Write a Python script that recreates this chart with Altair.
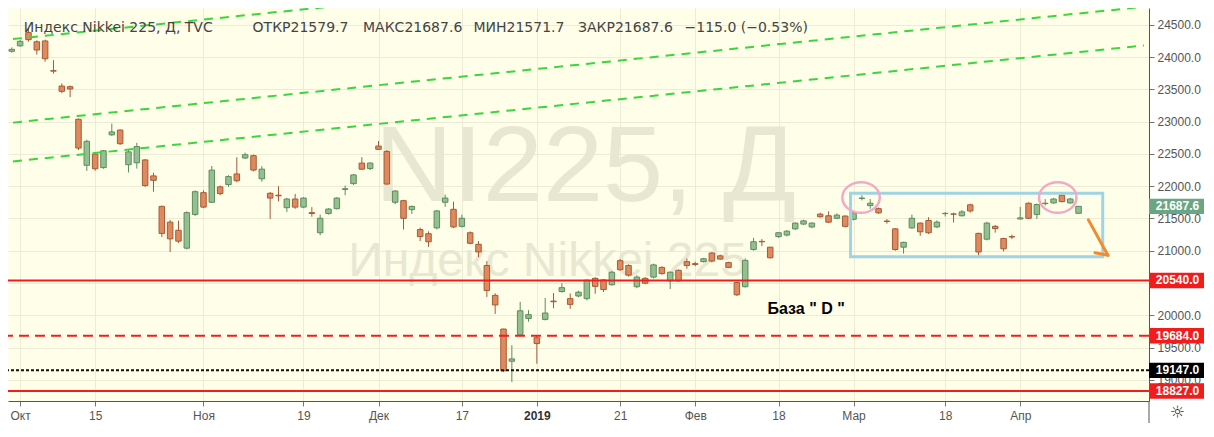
import json
import altair as alt
import pandas as pd

# ------------------------------------------------------------------ data
# trading-day index: -1 = 28 Sep 2018, 0 = 1 Oct 2018 ... 127 = 10 Apr 2019
first_index = -1
opens = [
    24090,
    24175, 24380, 24238, 24250, 23790, 23552, 23542, 23037, 22324, 22497,
    22288, 22796, 22870, 22333, 22363, 22407, 22160, 21687, 21443, 21318,
    21040, 21563, 21900, 21751, 21990, 22025, 22190, 22437, 22473, 22115,
    21890, 21860, 21667, 21801, 21676, 21590, 21279, 21577, 21652, 21950,
    22040, 22358, 22273, 22622, 22537, 21751, 21776, 21637, 21328, 21264,
    21354, 21751, 21642, 21378, 21279, 21100, 20772, 20309, 19787, 19288,
    19697, 19951, 19652, 19936, 20220, 20369, 20258, 20299, 20258, 20572,
    20548, 20473, 20846, 20772, 20443, 20572, 20592, 20742, 20533, 20697,
    20831, 20800, 20831, 20965, 20921, 20817, 20507, 20443, 21019, 21145,
    21055, 21219, 21243, 21339, 21413, 21369, 21567, 21542, 21503, 21537,
    21488, 21810, 21701, 21652, 21460, 21339, 21055, 21354, 21428, 21468,
    21369, 21575, 21570, 21542, 21711, 21269, 21179, 21378, 21190, 21220,
    21493, 21736, 21563, 21730, 21741, 21861, 21741, 21580,
]
highs = [
    24150,
    24270, 24448, 24260, 24270, 23953, 23593, 23560, 23050, 22721, 22510,
    22560, 22970, 22880, 22572, 22672, 22420, 22209, 21700, 21478, 21467,
    21610, 21935, 21935, 22313, 22010, 22170, 22448, 22520, 22490, 22310,
    21910, 22000, 21820, 21880, 21830, 21676, 21560, 21660, 21830, 22010,
    22190, 22450, 22370, 22700, 22560, 21940, 21790, 21700, 21360, 21300,
    21630, 21870, 21760, 21560, 21300, 21150, 20840, 20340, 19790, 19537,
    20209, 20080, 19687, 20269, 20343, 20497, 20340, 20380, 20560, 20590,
    20560, 20690, 20870, 20790, 20620, 20590, 20800, 20760, 20680, 20710,
    20880, 20830, 20890, 20980, 20940, 20830, 20520, 20880, 21200, 21180,
    21060, 21290, 21320, 21440, 21480, 21440, 21590, 21610, 21580, 21550,
    21610, 21860, 21801, 21670, 21490, 21350, 21140, 21560, 21440, 21520,
    21470, 21600, 21590, 21630, 21730, 21280, 21450, 21400, 21200, 21250,
    21680, 21750, 21730, 21800, 21820, 21870, 21820, 21688,
]
lows = [
    24070,
    24160, 24240, 24040, 23930, 23744, 23440, 23380, 22560, 22239, 22240,
    22270, 22780, 22640, 22213, 22273, 21990, 21915, 21213, 20981, 21120,
    21020, 21540, 21660, 21740, 21860, 21990, 22060, 22420, 22230, 22070,
    21493, 21766, 21600, 21650, 21660, 21527, 21240, 21560, 21640, 21860,
    22020, 22250, 22250, 22560, 22020, 21720, 21328, 21570, 21150, 21060,
    21330, 21680, 21350, 21360, 21100, 20900, 20284, 20020, 19120, 18966,
    19680, 19900, 19249, 19920, 20109, 20350, 20100, 20280, 20230, 20333,
    20360, 20460, 20690, 20600, 20420, 20480, 20570, 20630, 20408, 20520,
    20720, 20760, 20820, 20820, 20860, 20730, 20300, 20430, 21000, 21070,
    20880, 21200, 21220, 21320, 21400, 21350, 21510, 21430, 21490, 21360,
    21470, 21780, 21650, 21570, 21420, 21000, 20955, 21340, 21230, 21260,
    21350, 21530, 21437, 21530, 21590, 20930, 21160, 21280, 20990, 21180,
    21480, 21490, 21490, 21700, 21730, 21750, 21730, 21572,
]
closes = [
    24120,
    24245, 24270, 24110, 23975, 23783, 23470, 23506, 22591, 22695, 22271,
    22549, 22841, 22658, 22532, 22614, 22010, 22091, 21268, 21184, 21149,
    21590, 21915, 21676, 22249, 21885, 22149, 22085, 22488, 22250, 22264,
    21816, 21851, 21801, 21676, 21816, 21577, 21503, 21646, 21816, 21960,
    22175, 22264, 22358, 22572, 22034, 21925, 21502, 21687, 21219, 21139,
    21617, 21816, 21369, 21503, 21115, 20981, 20384, 20160, 19139, 19324,
    20070, 20010, 19562, 20035, 20210, 20428, 20169, 20358, 20542, 20448,
    20399, 20667, 20706, 20622, 20592, 20497, 20781, 20646, 20667, 20533,
    20772, 20788, 20876, 20840, 20871, 20742, 20317, 20851, 21139, 21139,
    20891, 21279, 21303, 21428, 21463, 21428, 21527, 21443, 21552, 21378,
    21587, 21816, 21736, 21587, 21453, 21019, 21130, 21503, 21294, 21279,
    21443, 21579, 21567, 21602, 21617, 20981, 21428, 21343, 21030, 21213,
    21509, 21503, 21716, 21736, 21801, 21761, 21801, 21688,
]

x_tick_index = [0, 9, 22, 34, 43, 53, 62, 72, 81, 91, 100, 111, 120]
x_tick_labels = ["Окт", "15", "Ноя", "19", "Дек", "17", "2019", "21", "Фев", "18", "Мар", "18", "Апр"]
y_ticks = list(range(19000, 25000, 500))
y_hidden_label = 20500   # covered by the 20540.0 tag in the original

# trend channel (green dashed), endpoints in (index, price)
trend_id = ["t1", "t1", "t2", "t2", "t3", "t3"]
trend_i = [-0.86, 134.85, -0.86, 134.85, -0.86, 134.85]
trend_p = [24280, 26071, 22985, 24780, 22384, 24181]

# horizontal levels
level_price = [20540, 19684, 19147, 18827]
level_name = ["20540.0", "19684.0", "19147.0", "18827.0"]

# tags on the price scale
tag_price = [21687.6, 20540, 19684, 19147, 18827]
tag_label = ["21687.6", "20540.0", "19684.0", "19147.0", "18827.0"]

# drawn annotations
box_i = [99.64, 129.9]
box_p = [21891, 20906]
circle_i = [100.9, 124.5]
circle_p = [21825, 21825]
arrow_i = [128.18, 128.96]
arrow_p = [21478, 20970]
arrow_i2 = [130.52, 130.52]
arrow_p2 = [20930, 20930]
base_text = 'База  " D "'
base_i, base_p = 89.67, 20025

title_texts = ["Индекс Nikkei 225, Д, TVC", "ОТКР21579.7", "МАКС21687.6",
               "МИН21571.7", "ЗАКР21687.6", "−115.0 (−0.53%)"]
title_ref_x = [16, 248, 360, 472, 578, 686]

# ------------------------------------------------------------------ layout / style
W, H = 1141, 393
RIGHT, BOTTOM = 55, 22
REF_W, REF_H = 1157.0, 408.0
sx, sy = W / REF_W, H / REF_H

def px(v):
    return v * sx

def py(v):
    return v * sy

BG = "#fefee9"
GRID = "#ececd6"
WM = "#e8e8d2"
UP_FILL, UP_LINE = "#93bf91", "#5d8c5d"
DN_FILL, DN_LINE = "#e0895d", "#a65a38"
GREEN = "#3ad63a"
RED = "#f21c1c"
BLUE = "#9fd4e4"
PINK = "#f3a8c8"
ORANGE = "#f5892c"
TXT = "#444444"

xs = alt.Scale(domain=[-0.856, 134.85], nice=False, zero=False)
ys = alt.Scale(domain=[18672, 24761], nice=False, zero=False)

label_expr = "{}[indexof({}, datum.value)]".format(
    json.dumps(x_tick_labels, ensure_ascii=False), json.dumps(x_tick_index))

x_axis = alt.Axis(
    values=x_tick_index, labelExpr=label_expr, orient="bottom", grid=True,
    tickCount=40,
    gridColor=GRID, gridWidth=1, domainColor="#555555", tickColor="#777777",
    tickSize=5, labelPadding=4, labelFont="Liberation Sans", labelFontSize=12,
    labelColor={"condition": {"test": "datum.value == 62", "value": "#333333"}, "value": "#555555"},
    labelFontWeight={"condition": {"test": "datum.value == 62", "value": "bold"}, "value": "normal"},
    labelOverlap=False, labelFlush=False,
)
y_axis = alt.Axis(
    values=y_ticks, tickCount=40, orient="right", grid=True, gridColor=GRID,
    labelExpr="datum.value == {} ? '' : format(datum.value, '.1f')".format(y_hidden_label),
    gridWidth=1, domainColor="#555555", tickColor="#777777", tickSize=5,
    labelPadding=3, labelFont="Liberation Sans", labelFontSize=12,
    labelColor="#555555", labelOverlap=False, labelFlush=False,
)

# ------------------------------------------------------------------ frames
n = len(closes)
df = pd.DataFrame({
    "i": list(range(first_index, first_index + n)),
    "o": opens, "h": highs, "l": lows, "c": closes,
})
df["dir"] = ["up" if c >= o else "down" for o, c in zip(df.o, df.c)]

dir_fill = alt.Scale(domain=["up", "down"], range=[UP_FILL, DN_FILL])
dir_line = alt.Scale(domain=["up", "down"], range=[UP_LINE, DN_LINE])

trend_df = pd.DataFrame({"g": trend_id, "i": trend_i, "p": trend_p})
level_df = pd.DataFrame({"p": level_price, "k": level_name})
half = 8 * 14.925
tag_df = pd.DataFrame({"p": tag_price, "lab": tag_label})
tag_df["top"] = tag_df.p + half
tag_df["bot"] = tag_df.p - half
box_df = pd.DataFrame({"i": [box_i[0]], "i2": [box_i[1]], "p": [box_p[0]], "p2": [box_p[1]]})
circ_df = pd.DataFrame({"i": circle_i, "p": circle_p})
arrow_df = pd.DataFrame({"i": arrow_i, "p": arrow_p, "i2": arrow_i2, "p2": arrow_p2})
base_df = pd.DataFrame({"i": [base_i], "p": [base_p], "t": [base_text]})
one = pd.DataFrame({"z": [0]})

# ------------------------------------------------------------------ layers
wm1 = alt.Chart(one).mark_text(
    text="NI225, Д", font="Liberation Sans", fontSize=108, color=WM,
    align="left", baseline="alphabetic",
).encode(x=alt.value(px(372)), y=alt.value(py(200)))
wm2 = alt.Chart(one).mark_text(
    text="Индекс Nikkei 225", font="Liberation Sans", fontSize=48, color=WM,
    align="left", baseline="alphabetic",
).encode(x=alt.value(px(345)), y=alt.value(py(278)))

wicks = alt.Chart(df).mark_rule(strokeWidth=1, clip=True).encode(
    x=alt.X("i:Q", scale=xs, axis=x_axis, title=None),
    y=alt.Y("l:Q", scale=ys, axis=y_axis, title=None),
    y2="h:Q",
    stroke=alt.Stroke("dir:N", scale=dir_line, legend=None),
)
bodies = alt.Chart(df).mark_bar(width=5.5, strokeWidth=1, clip=True).encode(
    x=alt.X("i:Q", scale=xs, title=None),
    y=alt.Y("o:Q", scale=ys, title=None),
    y2="c:Q",
    fill=alt.Fill("dir:N", scale=dir_fill, legend=None),
    stroke=alt.Stroke("dir:N", scale=dir_line, legend=None),
)

trend = alt.Chart(trend_df).mark_line(
    strokeDash=[9, 7], strokeWidth=2, color=GREEN, clip=True
).encode(
    x=alt.X("i:Q", scale=xs, title=None),
    y=alt.Y("p:Q", scale=ys, title=None),
    detail="g:N",
)

levels = alt.Chart(level_df).mark_rule(strokeWidth=2, clip=True).encode(
    y=alt.Y("p:Q", scale=ys, title=None),
    color=alt.Color("k:N", scale=alt.Scale(domain=level_name, range=[RED, RED, "#111111", RED]), legend=None),
    strokeDash=alt.StrokeDash("k:N", scale=alt.Scale(domain=level_name, range=[[1, 0], [10, 6], [3, 2], [1, 0]]), legend=None),
)

box = alt.Chart(box_df).mark_rect(filled=False, color=BLUE, strokeWidth=3, clip=True).encode(
    x=alt.X("i:Q", scale=xs, title=None), x2="i2:Q",
    y=alt.Y("p:Q", scale=ys, title=None), y2="p2:Q",
)

ellipse = "M -1 0 A 1 0.82 0 1 0 1 0 A 1 0.82 0 1 0 -1 0 Z"
circles = alt.Chart(circ_df).mark_point(
    shape=ellipse, size=1400, filled=False, strokeWidth=2.5, color=PINK, opacity=1
).encode(
    x=alt.X("i:Q", scale=xs, title=None),
    y=alt.Y("p:Q", scale=ys, title=None),
)

arrow = alt.Chart(arrow_df).mark_rule(strokeWidth=3, color=ORANGE, strokeCap="round").encode(
    x=alt.X("i:Q", scale=xs, title=None), x2="i2:Q",
    y=alt.Y("p:Q", scale=ys, title=None), y2="p2:Q",
)

base_lbl = alt.Chart(base_df).mark_text(
    font="Liberation Sans", fontSize=16, fontWeight="bold", color="#000000",
    align="left", baseline="alphabetic",
).encode(
    x=alt.X("i:Q", scale=xs, title=None),
    y=alt.Y("p:Q", scale=ys, title=None),
    text="t:N",
)

titles = []
for t, rx in zip(title_texts, title_ref_x):
    titles.append(
        alt.Chart(one).mark_text(
            text=t, font="DejaVu Sans", fontSize=14, color=TXT,
            align="left", baseline="alphabetic",
        ).encode(x=alt.value(px(rx)), y=alt.value(py(25)))
    )

tags = alt.Chart(tag_df).mark_rect().encode(
    x=alt.value(W), x2=alt.value(W + RIGHT + 2),
    y=alt.Y("top:Q", scale=ys, title=None), y2="bot:Q",
    fill=alt.Fill("lab:N", scale=alt.Scale(domain=tag_label, range=["#6aa584", RED, RED, "#000000", RED]), legend=None),
)
tag_text = alt.Chart(tag_df).mark_text(
    font="Liberation Sans", fontSize=12, fontWeight="bold", color="white",
    align="center", baseline="middle",
).encode(
    x=alt.value(W + RIGHT / 2 + 1),
    y=alt.Y("p:Q", scale=ys, title=None),
    text="lab:N",
)

divider = alt.Chart(one).mark_rule(color="#555555", strokeWidth=1).encode(
    x=alt.value(W), y=alt.value(H), y2=alt.value(H + BOTTOM)
)
gear = alt.Chart(one).mark_text(
    text="☼", font="DejaVu Sans", fontSize=17, color="#333333",
    align="center", baseline="middle",
).encode(x=alt.value(W + RIGHT / 2 + 1), y=alt.value(H + 12))

chart = alt.layer(
    wm1, wm2, wicks, bodies, trend, levels, box, circles, arrow, base_lbl,
    *titles, tags, tag_text, divider, gear,
).resolve_scale(
    fill="independent", stroke="independent", color="independent", strokeDash="independent"
).properties(
    width=W, height=H,
    autosize=alt.AutoSizeParams(type="none"),
    padding={"left": 0, "top": 0, "right": RIGHT, "bottom": BOTTOM},
    background="white",
).configure_view(fill=BG, stroke="transparent")

chart.save("out.html", embed_options={"renderer": "svg", "actions": False})
